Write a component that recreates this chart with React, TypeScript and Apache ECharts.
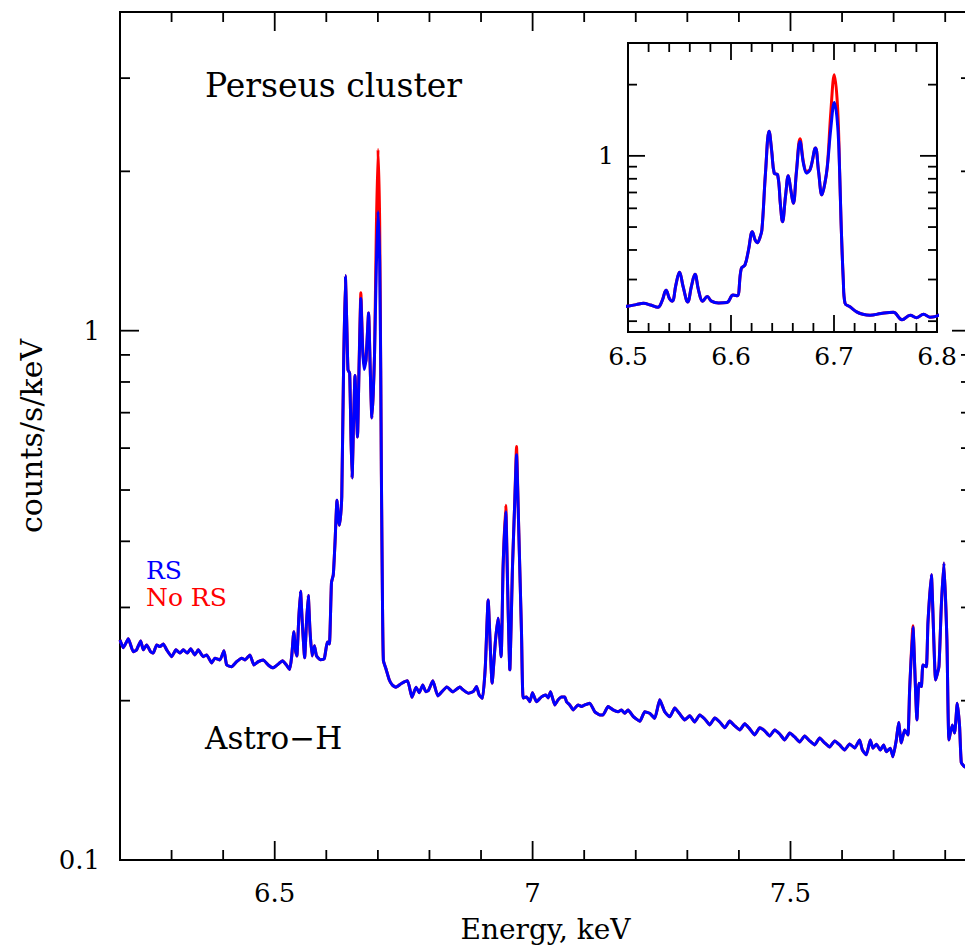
import React, { useEffect, useRef } from 'react';
import * as echarts from 'echarts';

// Energy grid (keV) and RS spectrum (counts/s/keV)
const ENERGY_KEV = [
  6.2, 6.2064, 6.2161, 6.2258, 6.2322, 6.2401, 6.2451, 6.2517, 6.2595, 6.2645,
  6.2711, 6.2775, 6.2839, 6.2905, 6.3002, 6.3085, 6.3163, 6.3227, 6.3304, 6.337,
  6.3453, 6.3517, 6.3614, 6.368, 6.3777, 6.3841, 6.3938, 6.4016, 6.4068, 6.4165,
  6.4262, 6.4359, 6.4422, 6.4519, 6.4597, 6.468, 6.4777, 6.4874, 6.4971,
  6.501, 6.508, 6.515, 6.522, 6.529, 6.533, 6.537, 6.5405, 6.543, 6.5465,
  6.55, 6.5535, 6.558, 6.5615, 6.565, 6.5685, 6.5725, 6.577, 6.581, 6.588,
  6.596, 6.602, 6.606, 6.61, 6.6136, 6.617, 6.6207, 6.6235, 6.6255, 6.628,
  6.63, 6.6335, 6.637, 6.6395, 6.642, 6.6453, 6.648, 6.65, 6.653, 6.6556,
  6.658, 6.6605, 6.6635, 6.667, 6.6705, 6.6735, 6.677, 6.682, 6.685, 6.6883,
  6.691, 6.6935, 6.697, 6.7003, 6.7035, 6.7055, 6.7068, 6.709, 6.7107, 6.7155,
  6.722, 6.728, 6.735, 6.7456, 6.7576, 6.766, 6.774, 6.7802, 6.787, 6.793,
  6.798, 6.8066, 6.8163, 6.8337, 6.8453, 6.8589, 6.8653, 6.875, 6.8847, 6.8913,
  6.8963, 6.9029, 6.9083, 6.9138, 6.9215, 6.9281, 6.9331, 6.939, 6.9428, 6.948,
  6.9515, 6.9558, 6.961, 6.9655, 6.9688, 6.9733, 6.9785, 6.9816, 6.9882, 6.9946,
  6.9998, 7.0075, 7.0172, 7.0256, 7.0301, 7.0347, 7.043, 7.0494, 7.056, 7.0624,
  7.0657, 7.0721, 7.0785, 7.0882, 7.0947, 7.1012, 7.1109, 7.1205, 7.1302, 7.1367,
  7.1463, 7.156, 7.1657, 7.1723, 7.1787, 7.1851, 7.1948, 7.2078, 7.2174, 7.2271,
  7.2368, 7.2465, 7.2562, 7.2659, 7.2756, 7.2853, 7.295, 7.3047, 7.3143, 7.324,
  7.3337, 7.3434, 7.3531, 7.3628, 7.3725, 7.3822, 7.3919, 7.4016, 7.4112, 7.4209,
  7.4306, 7.4403, 7.45, 7.4597, 7.4694, 7.4791, 7.4888, 7.4984, 7.5081, 7.5178,
  7.5275, 7.5372, 7.5469, 7.5566, 7.5663, 7.576, 7.5857, 7.5953, 7.605, 7.6147,
  7.6244, 7.6341, 7.6393, 7.6471, 7.6548, 7.6599, 7.6665, 7.6742, 7.6806, 7.6858,
  7.6936, 7.6986, 7.7052, 7.7097, 7.7149, 7.7213, 7.7277, 7.731, 7.7374, 7.7452,
  7.749, 7.7537, 7.7568, 7.7634, 7.7665, 7.7731, 7.7814, 7.7878, 7.7924, 7.7975,
  7.8033, 7.8072, 7.8137, 7.8182, 7.8234, 7.8279, 7.8312, 7.8376, 7.85,
];

const RS_COUNTS = [
  0.2605, 0.2517, 0.2617, 0.2473, 0.2495, 0.2594, 0.2495, 0.2549, 0.2473, 0.246,
  0.2549, 0.253, 0.256, 0.2495, 0.2422, 0.2495, 0.246, 0.2495, 0.246, 0.2506,
  0.244, 0.2495, 0.2422, 0.244, 0.2357, 0.2406, 0.2388, 0.2484, 0.2336, 0.2318,
  0.237, 0.2406, 0.2388, 0.244, 0.2336, 0.237, 0.2388, 0.2336, 0.2307,
  0.232, 0.235, 0.238, 0.234, 0.229, 0.243, 0.27, 0.248, 0.243, 0.285,
  0.322, 0.28, 0.241, 0.28, 0.316, 0.27, 0.243, 0.254, 0.243, 0.239,
  0.24, 0.258, 0.256, 0.334, 0.346, 0.4, 0.478, 0.44, 0.429, 0.45,
  0.486, 0.85, 1.27, 1.05, 0.844, 0.831, 0.62, 0.527, 0.68, 0.823,
  0.72, 0.63, 0.85, 1.15, 0.92, 0.845, 0.88, 1.08, 0.86, 0.684,
  0.76, 0.9, 1.32, 1.68, 1.35, 0.85, 0.535, 0.3, 0.238, 0.23,
  0.219, 0.214, 0.212, 0.2155, 0.218, 0.203, 0.212, 0.207, 0.214, 0.208,
  0.209, 0.218, 0.2042, 0.2123, 0.2078, 0.2123, 0.2096, 0.2066, 0.208, 0.2126,
  0.2051, 0.2021, 0.2319, 0.31, 0.2158, 0.2605, 0.2863, 0.2422, 0.3584, 0.455,
  0.33, 0.2287, 0.358, 0.479, 0.583, 0.4145, 0.268, 0.2024, 0.2033, 0.1991,
  0.207, 0.1991, 0.2033, 0.205, 0.2024, 0.208, 0.1963, 0.2007, 0.2033, 0.2033,
  0.1991, 0.1963, 0.1921, 0.1963, 0.195, 0.1963, 0.1978, 0.1906, 0.188, 0.188,
  0.195, 0.1921, 0.1906, 0.1921, 0.1893, 0.1921, 0.1868, 0.1828, 0.1906, 0.1893,
  0.1852, 0.2007, 0.1905, 0.1864, 0.1938, 0.1888, 0.1839, 0.1872, 0.1823, 0.188,
  0.1847, 0.18, 0.1855, 0.1823, 0.1777, 0.1831, 0.1792, 0.1761, 0.1808, 0.1769,
  0.1723, 0.1777, 0.1754, 0.1715, 0.1761, 0.173, 0.1686, 0.1738, 0.1708, 0.1671,
  0.1715, 0.1679, 0.165, 0.1701, 0.1664, 0.1635, 0.1679, 0.165, 0.1614, 0.1657,
  0.1628, 0.1686, 0.1614, 0.158, 0.1686, 0.1626, 0.1655, 0.1614, 0.165, 0.1602,
  0.1626, 0.1567, 0.1686, 0.1818, 0.1664, 0.1761, 0.1723, 0.2096, 0.2754, 0.1839,
  0.2158, 0.2126, 0.2336, 0.2318, 0.2802, 0.346, 0.2189, 0.2318, 0.3012, 0.3639,
  0.2605, 0.1686, 0.18, 0.1737, 0.1978, 0.1786, 0.1528, 0.1501, 0.149,
];

// No RS spectrum: identical to RS except at the resonant line peaks
const NO_RS_PEAK_ENERGY = [6.6635, 6.667, 6.6705, 6.6735, 6.697, 6.7003, 6.7035, 6.948, 6.9688, 7.7374];
const NO_RS_PEAK_COUNTS = [0.86, 1.18, 0.93, 0.86, 1.55, 2.2, 1.6, 0.468, 0.604, 0.277];

// Tick values
const MAIN_X_MAJOR = [6.5, 7.0, 7.5];
const MAIN_X_MINOR = [6.3, 6.4, 6.6, 6.7, 6.8, 6.9, 7.1, 7.2, 7.3, 7.4, 7.6, 7.7, 7.8];
const MAIN_Y_MAJOR = [1];
const MAIN_Y_MINOR = [0.2, 0.3, 0.4, 0.5, 0.6, 0.7, 0.8, 0.9, 2, 3];
const INSET_X_LABELS = [6.5, 6.6, 6.7, 6.8];
const INSET_X_MAJOR = [6.6, 6.7];
const INSET_X_MINOR = [6.52, 6.54, 6.56, 6.58, 6.62, 6.64, 6.66, 6.68, 6.72, 6.74, 6.76, 6.78];
const INSET_Y_MAJOR = [1];
const INSET_Y_MINOR = [0.2, 0.3, 0.4, 0.5, 0.6, 0.7, 0.8, 0.9, 2];

const FONT = 'DejaVu Serif';

function tickRenderer(params: any, api: any) {
  const cs = params.coordSys;
  const kind = api.value(2);
  const len = api.value(3);
  const p = api.coord([api.value(0), api.value(1)]);
  const st = { stroke: '#000', lineWidth: 1.8 };
  if (kind === 0) {
    const x = p[0];
    return {
      type: 'group',
      children: [
        { type: 'line', shape: { x1: x, y1: cs.y + cs.height, x2: x, y2: cs.y + cs.height - len }, style: st },
        { type: 'line', shape: { x1: x, y1: cs.y, x2: x, y2: cs.y + len }, style: st },
      ],
    };
  }
  const y = p[1];
  return {
    type: 'group',
    children: [
      { type: 'line', shape: { x1: cs.x, y1: y, x2: cs.x + len, y2: y }, style: st },
      { type: 'line', shape: { x1: cs.x + cs.width, y1: y, x2: cs.x + cs.width - len, y2: y }, style: st },
    ],
  };
}

export default function App() {
  const ref = useRef<HTMLDivElement>(null);
  useEffect(() => {
    if (!ref.current) return;
    const chart = echarts.init(ref.current, undefined, { renderer: 'svg' });

    const rsData = ENERGY_KEV.map((e, i) => [e, RS_COUNTS[i]]);
    const noRsData = ENERGY_KEV.map((e, i) => {
      const k = NO_RS_PEAK_ENERGY.indexOf(e);
      return [e, k >= 0 ? NO_RS_PEAK_COUNTS[k] : RS_COUNTS[i]];
    });
    const inInset = (d: number[]) => d[0] >= 6.49 && d[0] <= 6.81;

    const mainTicks = [
      ...MAIN_X_MAJOR.map((v) => [v, 1, 0, 19]),
      ...MAIN_X_MINOR.map((v) => [v, 1, 0, 10]),
      ...MAIN_Y_MAJOR.map((v) => [7.0, v, 1, 19]),
      ...MAIN_Y_MINOR.map((v) => [7.0, v, 1, 10]),
    ];
    const insetTicks = [
      ...INSET_X_MAJOR.map((v) => [v, 1, 0, 17]),
      ...INSET_X_MINOR.map((v) => [v, 1, 0, 9]),
      ...INSET_Y_MAJOR.map((v) => [6.65, v, 1, 17]),
      ...INSET_Y_MINOR.map((v) => [6.65, v, 1, 9]),
    ];

    const labelStyle = { fontFamily: FONT, fontSize: 26, color: '#000' };
    const near = (a: number, b: number) => Math.abs(a - b) < 1e-6 * Math.max(1, Math.abs(b));

    chart.setOption({
      animation: false,
      backgroundColor: '#fff',
      grid: [
        { left: 120, top: 12, width: 851, height: 848, show: true, borderColor: '#000', borderWidth: 2, backgroundColor: 'transparent' },
        { left: 628, top: 43, width: 309, height: 289, show: true, borderColor: '#000', borderWidth: 2, backgroundColor: '#fff' },
      ],
      xAxis: [
        {
          gridIndex: 0, type: 'value', min: 6.2, max: 7.85, interval: 0.1,
          axisLine: { show: false }, axisTick: { show: false }, splitLine: { show: false },
          axisLabel: {
            ...labelStyle, margin: 20, showMinLabel: false, showMaxLabel: false,
            formatter: (v: number) => {
              const m = MAIN_X_MAJOR.find((t) => near(v, t));
              return m !== undefined ? String(m) : '';
            },
          },
          name: 'Energy, keV', nameLocation: 'middle', nameGap: 55,
          nameTextStyle: { fontFamily: FONT, fontSize: 28, color: '#000' },
        },
        {
          gridIndex: 1, type: 'value', min: 6.5, max: 6.8, interval: 0.1,
          axisLine: { show: false }, axisTick: { show: false }, splitLine: { show: false },
          axisLabel: {
            ...labelStyle, fontSize: 25, margin: 12,
            formatter: (v: number) => {
              const m = INSET_X_LABELS.find((t) => near(v, t));
              return m !== undefined ? m.toFixed(1) : '';
            },
          },
        },
      ],
      yAxis: [
        {
          gridIndex: 0, type: 'log', logBase: 10, min: 0.1, max: 4,
          axisLine: { show: false }, axisTick: { show: false }, splitLine: { show: false },
          axisLabel: {
            ...labelStyle, margin: 20, showMaxLabel: false,
            formatter: (v: number) => (near(v, 1) ? '1' : near(v, 0.1) ? '0.1' : ''),
          },
          name: 'counts/s/keV', nameLocation: 'middle', nameGap: 74, nameRotate: 90,
          nameTextStyle: { fontFamily: FONT, fontSize: 30, color: '#000' },
        },
        {
          gridIndex: 1, type: 'log', logBase: 10, min: 0.18, max: 3,
          axisLine: { show: false }, axisTick: { show: false }, splitLine: { show: false },
          axisLabel: {
            ...labelStyle, fontSize: 25, margin: 14, showMinLabel: false, showMaxLabel: false,
            formatter: (v: number) => (near(v, 1) ? '1' : ''),
          },
        },
      ],
      graphic: [
        { type: 'text', left: 205, top: 69, style: { text: 'Perseus cluster', font: `33px "${FONT}"`, fill: '#000' } },
        { type: 'text', left: 205, top: 722, style: { text: 'Astro\u2212H', font: `31px "${FONT}"`, fill: '#000' } },
        { type: 'text', left: 146, top: 558, style: { text: 'RS', font: `25px "${FONT}"`, lineHeight: 25, fill: '#0000ff' } },
        { type: 'text', left: 146, top: 585, style: { text: 'No RS', font: `25px "${FONT}"`, lineHeight: 25, fill: '#ff0000' } },
      ],
      series: [
        {
          name: 'No RS', type: 'line', xAxisIndex: 0, yAxisIndex: 0, data: noRsData,
          showSymbol: false, smooth: 0.15, lineStyle: { color: '#ff0000', width: 3 }, z: 3,
        },
        {
          name: 'RS', type: 'line', xAxisIndex: 0, yAxisIndex: 0, data: rsData,
          showSymbol: false, smooth: 0.15, lineStyle: { color: '#0000ff', width: 3 }, z: 4,
        },
        {
          name: 'No RS inset', type: 'line', xAxisIndex: 1, yAxisIndex: 1, data: noRsData.filter(inInset),
          showSymbol: false, smooth: 0.4, lineStyle: { color: '#ff0000', width: 3 }, z: 3,
        },
        {
          name: 'RS inset', type: 'line', xAxisIndex: 1, yAxisIndex: 1, data: rsData.filter(inInset),
          showSymbol: false, smooth: 0.4, lineStyle: { color: '#0000ff', width: 3 }, z: 4,
        },
        {
          type: 'custom', xAxisIndex: 0, yAxisIndex: 0, data: mainTicks, renderItem: tickRenderer,
          encode: { x: 0, y: 1 }, silent: true, z: 5,
        },
        {
          type: 'custom', xAxisIndex: 1, yAxisIndex: 1, data: insetTicks, renderItem: tickRenderer,
          encode: { x: 0, y: 1 }, silent: true, z: 5,
        },
      ],
    });
    return () => chart.dispose();
  }, []);

  return (
    <div style={{ position: 'fixed', left: 0, top: 0, width: 965, height: 948, overflow: 'hidden', background: '#fff' }}>
      <div ref={ref} style={{ width: 985, height: 948 }} />
    </div>
  );
}
